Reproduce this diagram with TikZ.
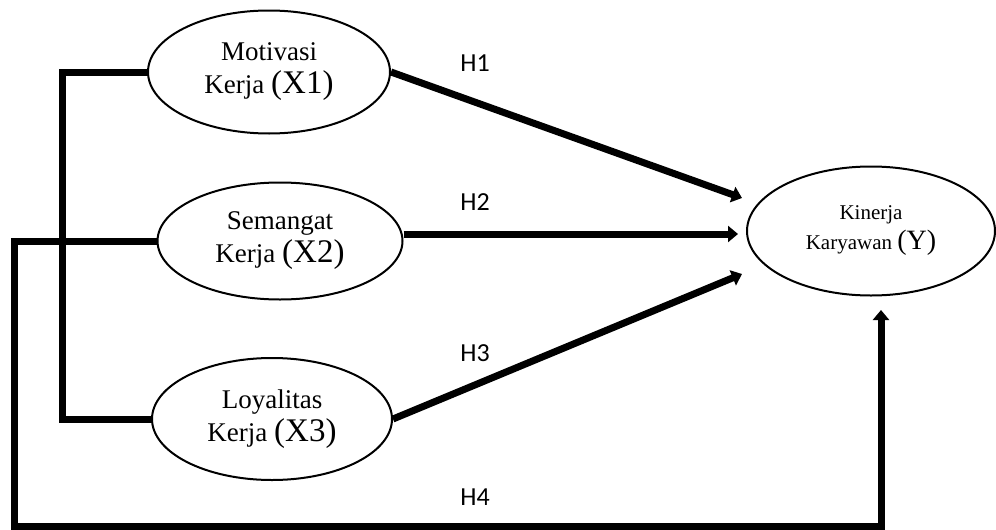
\documentclass[tikz,border=0pt]{standalone}
\usepackage{fontspec}
\setmainfont{Liberation Serif}
\newfontfamily\hfont{Carlito}
\usetikzlibrary{shapes.geometric,arrows.meta}

\tikzset{
  every variable/.style={ellipse, draw, line width=1pt, inner sep=0pt, align=center,
    font=\fontsize{13.5}{16.5}\selectfont},
  link/.style={line width=3.5pt},
  hyp/.style={font=\hfont\fontsize{13}{13}\selectfont}
}
\newcommand{\bigpar}[1]{{\fontsize{16.5}{16.5}\selectfont(#1)}}

\begin{document}
\begin{tikzpicture}[x=0.5pt, y=-0.5pt, >={Triangle[length=5pt,width=8pt]}]

        \useasboundingbox (0,0) rectangle (996,530);

        \node [every variable, minimum width=121pt, minimum height=61.5pt] (motivasi) at (269,72)
          {Motivasi\\Kerja \bigpar{X1}};
        \node [every variable, minimum width=122.5pt, minimum height=58.5pt] (semangat) at (280,241)
          {Semangat\\Kerja \bigpar{X2}};
        \node [every variable, minimum width=120pt, minimum height=61pt] (loyalitas) at (272,419)
          {Loyalitas\\Kerja \bigpar{X3}};
        \node [every variable, minimum width=124pt, minimum height=64.5pt,
          font=\fontsize{10.5}{15}\selectfont] (kinerja) at (871,231)
          {Kinerja\\Karyawan {\fontsize{14}{14}\selectfont(Y)}};

        \coordinate (h1tip) at (742,198);
        \coordinate (h2tip) at (738,234);
        \coordinate (h3tip) at (742,274);
        \coordinate (h4tip) at (881,310);
        \coordinate (bracket) at (62,0);
        \coordinate (loop) at (14,526);

        \draw [link, ->] (motivasi.east) -- (h1tip);
        \draw [link, ->] (semangat.east |- h2tip) -- (h2tip);
        \draw [link, ->] (loyalitas.east) -- (h3tip);

        \draw [link] (motivasi.west) -| (bracket |- loyalitas.west) -- (loyalitas.west);
        \draw [link, ->] (semangat.west) -| (loop) -| (h4tip);

        \foreach \l/\yy in {1/63, 2/202, 3/353, 4/497}
          \node [hyp] (h\l) at (475,\yy) {H\l};

\end{tikzpicture}
\end{document}
